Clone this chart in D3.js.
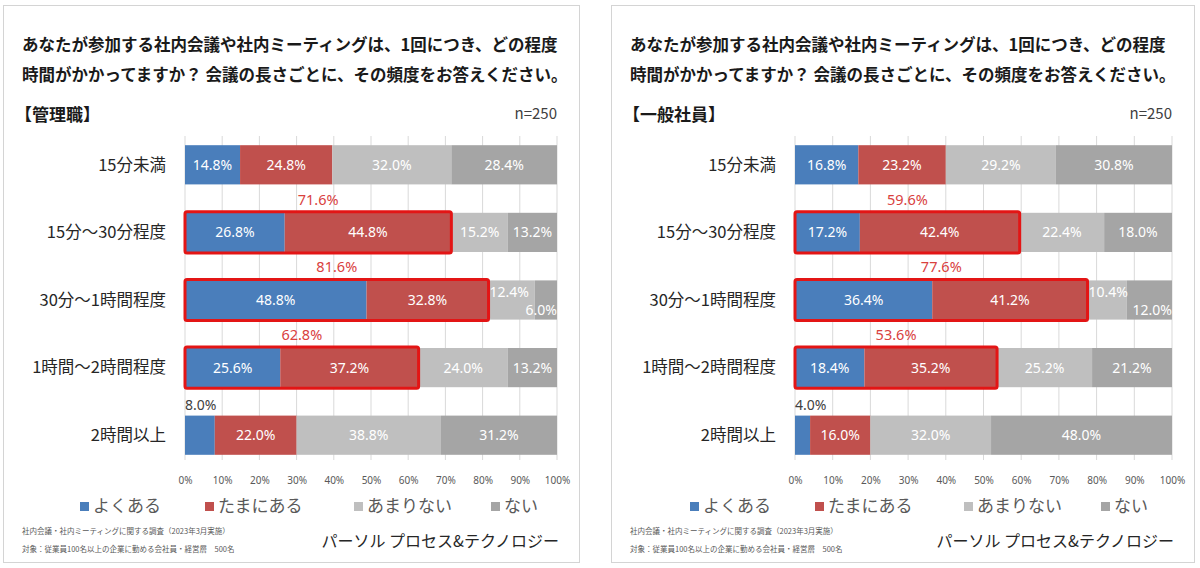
<!DOCTYPE html>
<html>
<head>
<meta charset="utf-8">
<script src="https://cdn.jsdelivr.net/npm/d3@7"></script>
<style>
  body { margin: 0; background: #fff; }
  svg { display: block; font-family: "Noto Sans CJK JP", "Noto Sans", sans-serif; }
</style>
</head>
<body>
<svg id="chart" width="1200" height="568"></svg>
<script>
const title1 = "あなたが参加する社内会議や社内ミーティングは、1回につき、どの程度";
const title2 = "時間がかかってますか？ 会議の長さごとに、その頻度をお答えください。";
const categories = ["15分未満", "15分～30分程度", "30分～1時間程度", "1時間～2時間程度", "2時間以上"];
const seriesNames = ["よくある", "たまにある", "あまりない", "ない"];
const ticks = [0, 10, 20, 30, 40, 50, 60, 70, 80, 90, 100];
const highlightRows = ["15分～30分程度", "30分～1時間程度", "1時間～2時間程度"];

const managerOften = [14.8, 26.8, 48.8, 25.6, 8.0];
const managerSometimes = [24.8, 44.8, 32.8, 37.2, 22.0];
const managerRarely = [32.0, 15.2, 12.4, 24.0, 38.8];
const managerNever = [28.4, 13.2, 6.0, 13.2, 31.2];

const staffOften = [16.8, 17.2, 36.4, 18.4, 4.0];
const staffSometimes = [23.2, 42.4, 41.2, 35.2, 16.0];
const staffRarely = [29.2, 22.4, 10.4, 25.2, 32.0];
const staffNever = [30.8, 18.0, 12.0, 21.2, 48.0];

const colors = ["#4a7ebb", "#c0504d", "#bfbfbf", "#a5a5a5"];
const note1 = "社内会議・社内ミーティングに関する調査（2023年3月実施）";
const note2 = "対象：従業員100名以上の企業に勤める会社員・経営層　500名";
const brand = "パーソル プロセス&テクノロジー";

const svg = d3.select("#chart");

function drawPanel(px, pw, label, series, x0, x1) {
  const g = svg.append("g").attr("transform", `translate(${px},0)`);
  g.append("rect").attr("x", 0.5).attr("y", 5.5).attr("width", pw).attr("height", 557)
    .attr("fill", "#fff").attr("stroke", "#d4d4d4");

  g.append("text").attr("x", 19).attr("y", 51).text(title1)
    .attr("font-size", 16.5).attr("font-weight", "bold").attr("fill", "#1a1a1a");
  g.append("text").attr("x", 19).attr("y", 81).text(title2)
    .attr("font-size", 16.5).attr("font-weight", "bold").attr("fill", "#1a1a1a");
  g.append("text").attr("x", 12).attr("y", 121).text(label)
    .attr("font-size", 17).attr("font-weight", "bold").attr("fill", "#1a1a1a");
  g.append("text").attr("x", x1).attr("y", 119).attr("text-anchor", "end").text("n=250")
    .attr("font-size", 15).attr("fill", "#404040");

  const x = d3.scaleLinear().domain([0, 100]).range([x0, x1]);
  const y = d3.scaleBand().domain(categories).range([131, 469]).paddingInner(0.42).paddingOuter(0.21);

  // gridlines
  g.append("g").selectAll("line").data(ticks).join("line")
    .attr("x1", d => x(d)).attr("x2", d => x(d))
    .attr("y1", 136).attr("y2", 460)
    .attr("stroke", "#d9d9d9");

  // axis labels
  const ax = g.append("g").attr("transform", "translate(0,474)")
    .call(d3.axisBottom(x).tickValues(ticks).tickFormat(d => d + "%").tickSize(0));
  ax.select(".domain").remove();
  ax.selectAll("text").attr("font-size", 10).attr("fill", "#595959")
    .attr("font-family", "'Noto Sans', sans-serif");

  // category labels
  g.append("g").selectAll("text").data(categories).join("text")
    .attr("x", x0 - 19).attr("y", d => y(d) + y.bandwidth() / 2)
    .attr("dy", "0.35em").attr("text-anchor", "end")
    .attr("font-size", 16.5).attr("fill", "#262626").text(d => d);

  const stacked = d3.stack().keys(d3.range(4))(
    categories.map((c, i) => series.map(s => s[i])));

  const bars = g.append("g");
  stacked.forEach((layer, k) => {
    bars.append("g").attr("fill", colors[k]).selectAll("rect").data(layer).join("rect")
      .attr("x", d => x(d[0])).attr("width", d => x(d[1]) - x(d[0]))
      .attr("y", (d, i) => y(categories[i])).attr("height", y.bandwidth());
  });

  // segment labels
  const labs = g.append("g").attr("font-family", "'Noto Sans', sans-serif").attr("font-size", 14);
  stacked.forEach((layer, k) => {
    layer.forEach((d, i) => {
      const v = d[1] - d[0];
      const cy = y(categories[i]) + y.bandwidth() / 2;
      const t = labs.append("text").text(v.toFixed(1) + "%").attr("dy", "0.35em");
      if (k === 0 && v < 10) {
        t.attr("x", x(d[0])).attr("y", y(categories[i]) - 10).attr("fill", "#404040");
      } else if (k === 3 && v < 13 && (d[0] - stacked[2][i][0]) < 13) {
        t.attr("x", x(d[1])).attr("y", cy + 10).attr("text-anchor", "end").attr("fill", "#fff");
      } else if (k === 2 && stacked[3][i][1] - stacked[3][i][0] < 13 && v < 13) {
        t.attr("x", x(d[0]) + 1).attr("y", cy - 8).attr("fill", "#fff");
      } else {
        t.attr("x", x((d[0] + d[1]) / 2)).attr("y", cy).attr("text-anchor", "middle").attr("fill", "#fff");
      }
    });
  });

  // highlight boxes for often + sometimes
  const hi = g.append("g");
  categories.forEach((c, i) => {
    if (!highlightRows.includes(c)) return;
    const total = series[0][i] + series[1][i];
    hi.append("rect")
      .attr("x", x(0)).attr("y", y(c) - 1)
      .attr("width", x(total) - x(0)).attr("height", y.bandwidth() + 2)
      .attr("rx", 2).attr("fill", "none").attr("stroke", "#e31515").attr("stroke-width", 3);
    hi.append("text").attr("x", x(total / 2)).attr("y", y(c) - 8)
      .attr("text-anchor", "middle").attr("font-size", 14.5)
      .attr("font-family", "'Noto Sans', sans-serif")
      .attr("fill", "#d9413e").text(total.toFixed(1) + "%");
  });

  // legend
  const legX = [x0 - 105, x0 + 20, x0 + 169, x0 + 306];
  const leg = g.append("g").selectAll("g").data(seriesNames).join("g")
    .attr("transform", (d, i) => `translate(${legX[i]},506)`);
  leg.append("rect").attr("x", 0).attr("y", -4).attr("width", 9).attr("height", 9)
    .attr("fill", (d, i) => colors[i]);
  leg.append("text").attr("x", 13).attr("y", 0).attr("dy", "0.35em")
    .attr("font-size", 17).attr("fill", "#595959").text(d => d);

  // notes
  g.append("text").attr("x", 19).attr("y", 534).attr("font-size", 7.5).attr("fill", "#595959").text(note1);
  g.append("text").attr("x", 19).attr("y", 552).attr("font-size", 7.5).attr("fill", "#595959").text(note2);
  g.append("text").attr("x", x1 + 2).attr("y", 547).attr("text-anchor", "end")
    .attr("font-size", 16).attr("fill", "#262626").text(brand);
}

drawPanel(3, 576, "【管理職】", [managerOften, managerSometimes, managerRarely, managerNever], 182, 554);
drawPanel(611, 583, "【一般社員】", [staffOften, staffSometimes, staffRarely, staffNever], 184, 561);
</script>
</body>
</html>
